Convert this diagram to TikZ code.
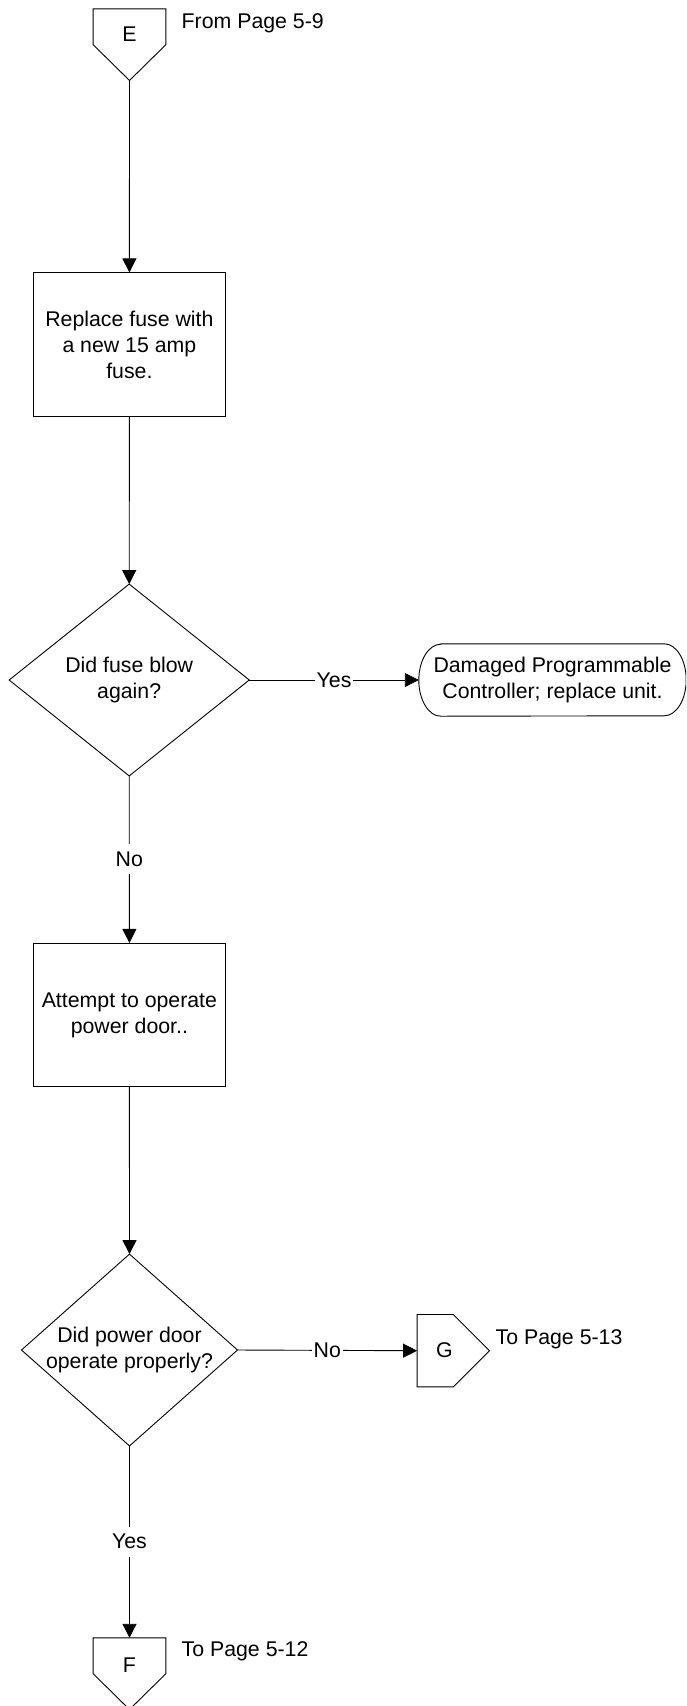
\documentclass[tikz,border=0pt]{standalone}
\usepackage{fontspec}
\setmainfont{Liberation Sans}
\usetikzlibrary{arrows.meta}

\begin{document}
\begin{tikzpicture}[x=1pt,y=-1pt,
  every node/.style={font=\fontsize{21.3}{26}\selectfont, inner sep=0pt},
  outline/.style={draw=black, line width=0.9pt},
  flow/.style={outline, -{Triangle[length=14pt,width=14pt]}},
  frame/.style 2 args={rectangle, minimum width=#1, minimum height=#2, align=center},
  process/.style={frame={192.5pt}{143.2pt}, outline},
  lbl/.style={fill=white, inner xsep=2pt, inner ysep=4pt, text height=18pt, text depth=4pt},
  pagenote/.style={anchor=base west}
]
\useasboundingbox (0,0) rectangle (686,1706);
\clip (0,0) rectangle (686,1706);

% ---- shapes ----
\node[frame={72.4pt}{71.3pt}] (conE) at (129.5,44.65) {};
\node[anchor=base] (letE) at (129.5,41.7) {E};
\node[pagenote] (noteE) at (181.5,28) {From Page 5-9};

\node[process] (box1) at (129.4,344.5) {Replace fuse with\\a new 15 amp\\fuse.};

\node[frame={239.7pt}{191.4pt}] (dec1) at (129.2,680) {Did fuse blow\\again?};

\node[frame={267pt}{72pt}] (term) at (552.5,680) {Damaged Programmable\\Controller; replace unit.};

\node[process] (box2) at (129.4,1015) {Attempt to operate\\power door..};

\node[frame={215.6pt}{191.4pt}] (dec2) at (129.5,1350) {Did power door\\operate properly?};

\node[frame={72pt}{72pt}] (conG) at (453.3,1350.7) {};
\node[anchor=base] (letG) at (444.3,1357) {G};
\node[pagenote] (noteG) at (495.5,1344.3) {To Page 5-13};

\node[frame={72.4pt}{71.3pt}] (conF) at (129.5,1673.65) {};
\node[anchor=base] (letF) at (129.5,1672.3) {F};
\node[pagenote] (noteF) at (181.5,1656.7) {To Page 5-12};

% ---- outlines ----
\draw[outline] (conE.north west) -- (conE.north east) -- (conE.east) -- (conE.south) -- (conE.west) -- cycle;
\draw[outline] (conF.north west) -- (conF.north east) -- (conF.east) -- (conF.south) -- (conF.west) -- cycle;
\draw[outline] (conG.north west) -- (conG.north) -- (conG.east) -- (conG.south) -- (conG.south west) -- cycle;
\draw[outline] (dec1.north) -- (dec1.east) -- (dec1.south) -- (dec1.west) -- cycle;
\draw[outline] (dec2.north) -- (dec2.east) -- (dec2.south) -- (dec2.west) -- cycle;
\draw[outline] ([xshift=22pt]term.north west) -- ([xshift=-22pt]term.north east)
  arc[start angle=90, end angle=-90, x radius=22pt, y radius=36pt]
  -- ([xshift=22pt]term.south west)
  arc[start angle=270, end angle=90, x radius=22pt, y radius=36pt] -- cycle;

% ---- connectors ----
\draw[flow] (conE.south) -- (box1.north);
\draw[flow] (box1.south) -- (dec1.north);
\draw[flow] (dec1.east) -- node[lbl] {Yes} (term.west);
\draw[flow] (dec1.south) -- node[lbl] {No} (box2.north);
\draw[flow] (box2.south) -- (dec2.north);
\draw[flow] (dec2.east) -- node[lbl] {No} (conG.west);
\draw[flow] (dec2.south) -- node[lbl] {Yes} (conF.north);
\end{tikzpicture}
\end{document}
